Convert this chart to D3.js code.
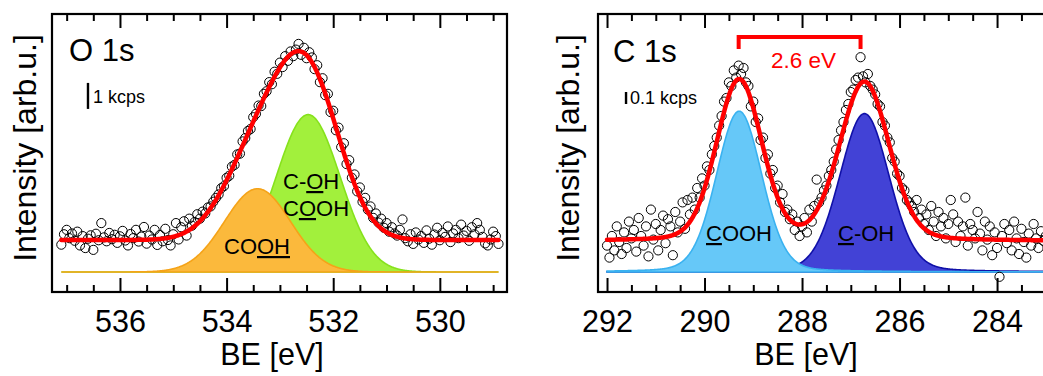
<!DOCTYPE html>
<html><head><meta charset="utf-8">
<script src="https://cdn.jsdelivr.net/npm/d3@7"></script>
<style>
body{margin:0;background:#fff}
svg{display:block}
text{font-family:"Liberation Sans",Arial,Helvetica,sans-serif;fill:#000}
</style>
</head><body>
<svg id="c" width="1043" height="376"></svg>
<script>
// ---------------- DATA ----------------
// O 1s spectrum: binding energy grid (eV) and counts (kcps)
const o1sStart = 537.10, o1sStep = 0.05;
const o1sCounts = [
 1.05,1.45,1.62,1.30,1.48,1.20,1.55,1.02,1.38,0.92,
 1.28,1.41,0.85,1.47,1.22,1.88,1.33,1.18,1.50,1.26,
 1.43,1.12,1.37,1.58,1.21,1.02,1.46,1.30,1.62,1.17,
 1.36,1.73,1.09,1.40,1.25,1.62,1.04,1.42,1.18,1.66,
 1.23,1.02,1.45,1.88,1.25,1.72,1.95,1.40,2.05,1.78,
 1.92,2.22,2.05,2.32,2.25,2.48,2.52,2.70,2.85,2.98,
 3.22,3.30,3.62,3.70,4.05,4.12,4.52,4.55,5.02,5.15,
 5.42,5.50,5.95,6.08,6.40,6.38,6.85,6.95,7.30,7.22,
 7.70,7.62,8.05,7.88,8.30,8.12,8.48,8.30,8.55,8.77,
 8.35,8.62,8.22,8.45,8.25,7.80,7.95,7.30,7.45,6.80,
 6.85,6.15,6.20,5.45,5.55,4.80,4.95,4.15,4.30,3.62,
 3.75,3.10,3.25,2.70,2.85,2.40,2.52,2.08,2.25,1.90,
 2.05,1.70,1.88,1.55,1.72,1.48,1.40,1.62,2.02,1.30,
 1.18,1.45,1.08,1.52,1.25,1.38,1.12,1.60,1.28,1.05,
 1.44,1.70,1.22,1.50,1.35,1.75,1.15,1.48,1.62,1.30,
 1.82,1.40,1.58,1.20,1.72,1.45,1.88,1.62,1.35,1.10,
 1.02,1.25,1.55,1.38,1.08
];
const o1sFitRange = [537.10, 528.90];
const o1sBackground = 1.23;
const o1sPeakCenters = [533.42, 532.47];
const o1sPeakHeights = [3.2, 6.05];
const o1sPeakFwhm = [1.46, 1.41];
const o1sPeakLorentz = [0, 0];
const o1sTicks = [536, 534, 532, 530];

// C 1s spectrum
const c1sStart = 292.00, c1sStep = 0.05;
const c1sCounts = [
 .22,.12,.30,.18,.38,.25,.15,.33,.20,.42,
 .28,.35,.17,.45,.30,.22,.38,.13,.52,.27,
 .40,.18,.35,.47,.24,.44,.38,.14,.50,.33,
 .42,.58,.36,.60,.48,.62,.52,.70,.62,.78,
 .72,.88,.85,.98,1.05,1.12,1.22,1.30,1.42,1.45,
 1.58,1.55,1.68,1.62,1.72,1.65,1.70,1.58,1.55,1.38,
 1.42,1.25,1.28,1.10,1.12,.95,.98,.82,.85,.70,
 .72,.58,.65,.50,.52,.44,.48,.35,.42,.30,
 .38,.45,.33,.52,.42,.55,.77,.58,.62,.68,
 .72,.80,.85,.92,1.02,1.10,1.18,1.25,1.35,1.40,
 1.50,1.52,1.60,1.62,1.79,1.63,1.58,1.65,1.55,1.52,
 1.48,1.40,1.38,1.25,1.22,1.12,1.08,.95,.92,.82,
 .80,.70,.68,.60,.58,.55,.50,.60,.45,.52,
 .40,.48,.35,.55,.42,.30,.50,.38,.45,.28,
 .40,.60,.48,.25,.42,.30,.38,.62,.22,.40,
 .35,.28,.50,.32,.18,.42,.27,.38,.14,.33,
 .20,-.04,.30,.40,.24,.35,.18,.42,.28,.15,
 .36,.25,.12,.32,.22,.40,.28,.20,.34,.26,
 .30
];
const c1sFitRange = [292.00, 282.80];
const c1sBackground = 0.258;
const c1sPeakCenters = [289.29, 286.72];
const c1sPeakHeights = [1.34, 1.32];
const c1sPeakFwhm = [1.1, 1.2];
const c1sPeakLorentz = [0.15, 0.15];
const c1sTicks = [292, 290, 288, 286, 284];
const c1sSplitting = [289.3, 286.8];
const c1sSplittingLabel = "2.6 eV";

// ---------------- LAYOUT ----------------
const panels = [
 {id:"o", left:52, right:507, top:14, bottom:292,
  xDomain:[537.275, 528.74], yDomain:[-0.77, 9.92],
  start:o1sStart, step:o1sStep, counts:o1sCounts, fitRange:o1sFitRange, bg:o1sBackground,
  centers:o1sPeakCenters, heights:o1sPeakHeights, fwhm:o1sPeakFwhm, mix:o1sPeakLorentz,
  ticks:o1sTicks,
  fills:["#fbb93c","#a2f03c"], strokes:["#f5a318","#86e21c"],
  title:"O 1s", titlePos:[69,61],
  scaleVal:1, scaleText:"1 kcps", scaleAt:[536.6, 6.27], scaleTextDx:5, scaleTextDy:-6,
  labels:[
   {x:224, y:254, parts:[["CO",0],["OH",1]]},
   {x:283, y:189, parts:[["C-",0],["O",1],["H",0]]},
   {x:283, y:216, parts:[["C",0],["O",1],["OH",0]]}
  ],
  xTitleX:272, yTitleX:36},
 {id:"c", left:598, right:1058, top:14, bottom:292,
  xDomain:[292.185, 282.75], yDomain:[-0.1667, 2.15],
  start:c1sStart, step:c1sStep, counts:c1sCounts, fitRange:c1sFitRange, bg:c1sBackground,
  centers:c1sPeakCenters, heights:c1sPeakHeights, fwhm:c1sPeakFwhm, mix:c1sPeakLorentz,
  ticks:c1sTicks,
  fills:["#66c8f8","#4242d6"], strokes:["#3ab2f0","#1010a8"],
  title:"C 1s", titlePos:[613,62],
  scaleVal:0.1, scaleText:"0.1 kcps", scaleAt:[291.61, 1.4], scaleTextDx:4, scaleTextDy:0,
  labels:[
   {x:706, y:241, parts:[["C",1],["OOH",0]]},
   {x:838, y:241, parts:[["C",1],["-OH",0]]}
  ],
  bracket:c1sSplitting, bracketLabel:c1sSplittingLabel,
  xTitleX:806, yTitleX:579}
];

function profile(e, c, h, w, m){
  const u = 4*(e-c)*(e-c)/(w*w);
  return h*((1-m)*Math.exp(-Math.LN2*u) + m/(1+u));
}

const svg = d3.select("#c");
const defs = svg.append("defs");

panels.forEach(p => {
  const x = d3.scaleLinear().domain(p.xDomain).range([p.left, p.right]);
  const y = d3.scaleLinear().domain(p.yDomain).range([p.bottom, p.top]);
  defs.append("clipPath").attr("id","clip-"+p.id).append("rect")
    .attr("x",p.left).attr("y",p.top).attr("width",p.right-p.left).attr("height",p.bottom-p.top);
  const plot = svg.append("g").attr("clip-path","url(#clip-"+p.id+")");

  const grid = d3.range(p.fitRange[0], p.fitRange[1]-1e-9, -0.01);
  const idx = p.centers.map((c,i)=>i).reverse();
  idx.forEach(i => {
    plot.append("path").datum(grid)
      .attr("d", d3.area().x(e=>x(e)).y0(y(0))
        .y1(e=>y(profile(e,p.centers[i],p.heights[i],p.fwhm[i],p.mix[i]))))
      .attr("fill",p.fills[i]).attr("stroke",p.strokes[i]).attr("stroke-width",1.6);
  });

  plot.append("g").selectAll("circle").data(p.counts).join("circle")
    .attr("cx",(d,i)=>x(p.start - i*p.step)).attr("cy",d=>y(d))
    .attr("r",4.6).attr("fill","none").attr("stroke","#000").attr("stroke-width",1);

  const fit = e => p.bg + p.centers.reduce((s,c,i)=>s+profile(e,c,p.heights[i],p.fwhm[i],p.mix[i]),0);
  plot.append("path").datum(grid)
    .attr("d", d3.line().x(e=>x(e)).y(e=>y(fit(e))))
    .attr("fill","none").attr("stroke","#ff0000").attr("stroke-width",4.5)
    .attr("stroke-linejoin","round").attr("stroke-linecap","round");

  const lo = Math.min(...p.xDomain), hi = Math.max(...p.xDomain);
  const minor = d3.range(Math.ceil(lo*2)/2, hi, 0.5).filter(v => !p.ticks.includes(v));
  const styleAxis = g => { g.select(".domain").remove();
    g.selectAll("line").attr("stroke","#000").attr("stroke-width",2); };
  svg.append("g").attr("transform",`translate(0,${p.bottom})`)
    .call(d3.axisBottom(x).tickValues(p.ticks).tickSizeInner(-14).tickSizeOuter(0).tickPadding(18).tickFormat(d3.format("d")))
    .call(styleAxis)
    .call(g=>g.selectAll("text").attr("font-size",30.5).attr("font-family","Liberation Sans, Arial, sans-serif").attr("fill","#000"));
  svg.append("g").attr("transform",`translate(0,${p.bottom})`)
    .call(d3.axisBottom(x).tickValues(minor).tickSizeInner(-7).tickSizeOuter(0).tickFormat(""))
    .call(styleAxis);
  svg.append("g").attr("transform",`translate(0,${p.top})`)
    .call(d3.axisTop(x).tickValues(p.ticks).tickSizeInner(-14).tickSizeOuter(0).tickFormat(""))
    .call(styleAxis);
  svg.append("g").attr("transform",`translate(0,${p.top})`)
    .call(d3.axisTop(x).tickValues(minor).tickSizeInner(-7).tickSizeOuter(0).tickFormat(""))
    .call(styleAxis);

  svg.append("rect").attr("x",p.left).attr("y",p.top)
    .attr("width",p.right-p.left).attr("height",p.bottom-p.top)
    .attr("fill","none").attr("stroke","#000").attr("stroke-width",2.2);

  svg.append("text").attr("x",p.titlePos[0]).attr("y",p.titlePos[1])
    .attr("font-size",31).text(p.title);

  const sx = x(p.scaleAt[0]);
  svg.append("line").attr("x1",sx).attr("x2",sx)
    .attr("y1",y(p.scaleAt[1])).attr("y2",y(p.scaleAt[1]+p.scaleVal))
    .attr("stroke","#000").attr("stroke-width",2.4);
  svg.append("text").attr("x",sx+p.scaleTextDx).attr("y",y(p.scaleAt[1])+p.scaleTextDy)
    .attr("font-size",18).text(p.scaleText);

  p.labels.forEach(L => {
    const t = svg.append("text").attr("x",L.x).attr("y",L.y).attr("font-size",22);
    L.parts.forEach(([s,u]) => t.append("tspan").text(s)
      .style("text-decoration", u ? "underline" : "none"));
  });

  if (p.bracket) {
    const bx0 = x(p.bracket[0]), bx1 = x(p.bracket[1]);
    svg.append("path")
      .attr("d",`M${bx0},49V37H${bx1}V49`)
      .attr("fill","none").attr("stroke","#ff0000").attr("stroke-width",4);
    svg.append("text").attr("x",(bx0+bx1)/2+4).attr("y",68)
      .attr("text-anchor","middle").attr("font-size",22.5)
      .style("fill","#ff0000").text(p.bracketLabel);
  }

  svg.append("text").attr("x",p.xTitleX).attr("y",365).attr("text-anchor","middle")
    .attr("font-size",30.5).text("BE [eV]");
  svg.append("text").attr("transform",`translate(${p.yTitleX},148) rotate(-90)`)
    .attr("text-anchor","middle").attr("font-size",32).text("Intensity [arb.u.]");
});
</script>
</body></html>
